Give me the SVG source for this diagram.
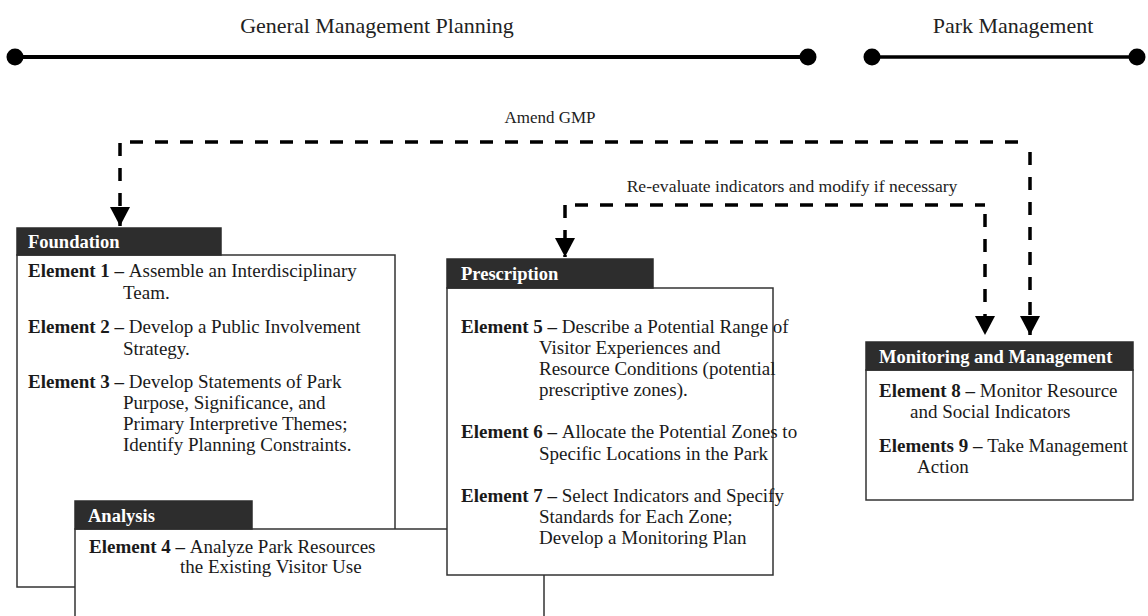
<svg xmlns="http://www.w3.org/2000/svg" width="1148" height="616" viewBox="0 0 1148 616">
  <defs>
    <style>
      .title { font-family: "Liberation Serif", "Times New Roman", serif; font-size: 22px; fill: #222; }
      .note { font-family: "Liberation Serif", "Times New Roman", serif; font-size: 17px; fill: #222; }
      .head { font-family: "Liberation Serif", "Times New Roman", serif; font-size: 18.5px; font-weight: bold; fill: #fff; }
      .body { font-family: "Liberation Serif", "Times New Roman", serif; font-size: 19px; fill: #1a1a1a; }
      .body tspan.b { font-weight: bold; }
      .bar { fill: #2d2d2d; stroke: #2d2d2d; stroke-width: 1.5; }
      .box { fill: #fff; stroke: #333; stroke-width: 1.5; }
      .dash { fill: none; stroke: #000; stroke-width: 3.5; stroke-dasharray: 13 12; }
      .phase { stroke: #000; stroke-linecap: butt; }
    </style>
    <marker id="arrow" viewBox="0 0 20 20" refX="19" refY="10" markerWidth="20" markerHeight="20" markerUnits="userSpaceOnUse" orient="auto">
      <path d="M0,0 L19,10 L0,20 Z" fill="#000"/>
    </marker>
  </defs>

  <!-- Phase timelines -->
  <g id="phases">
    <text class="title" x="377" y="33" text-anchor="middle">General Management Planning</text>
    <line class="phase" x1="15" y1="57" x2="808" y2="57" stroke-width="4"/>
    <circle cx="15" cy="57" r="8.5"/>
    <circle cx="808" cy="57" r="8.5"/>
    <text class="title" x="1013" y="33" text-anchor="middle">Park Management</text>
    <line class="phase" x1="872" y1="57" x2="1137" y2="57" stroke-width="3.3"/>
    <circle cx="872" cy="57" r="8.5"/>
    <circle cx="1137" cy="57" r="8.5"/>
  </g>

  <!-- Feedback connectors -->
  <g id="connectors">
    <text class="note" x="550" y="123" text-anchor="middle">Amend GMP</text>
    <path class="dash" d="M120,143 V226" marker-end="url(#arrow)"/>
    <path class="dash" d="M130,142 H1030"/>
    <path class="dash" d="M1030,152 V335" marker-end="url(#arrow)"/>

    <text class="note" x="792" y="192" text-anchor="middle" style="font-size:17.6px">Re-evaluate indicators and modify if necessary</text>
    <path class="dash" d="M565,205 V257" marker-end="url(#arrow)"/>
    <path class="dash" d="M575,205 H985"/>
    <path class="dash" d="M985,214 V335" marker-end="url(#arrow)"/>
  </g>

  <!-- Foundation -->
  <g id="foundation">
    <rect class="box" x="17" y="255" width="378" height="332"/>
    <rect class="bar" x="17" y="228" width="204" height="27"/>
    <text class="head" x="28" y="248">Foundation</text>
    <text class="body" x="28" y="277"><tspan class="b">Element 1 – </tspan>Assemble an Interdisciplinary</text>
    <text class="body" x="123" y="299">Team.</text>
    <text class="body" x="28" y="333"><tspan class="b">Element 2 – </tspan>Develop a Public Involvement</text>
    <text class="body" x="123" y="355">Strategy.</text>
    <text class="body" x="28" y="388"><tspan class="b">Element 3 – </tspan>Develop Statements of Park</text>
    <text class="body" x="123" y="409">Purpose, Significance, and</text>
    <text class="body" x="123" y="430">Primary Interpretive Themes;</text>
    <text class="body" x="123" y="451">Identify Planning Constraints.</text>
  </g>

  <!-- Analysis -->
  <g id="analysis">
    <rect class="box" x="75" y="529" width="469" height="100"/>
    <rect class="bar" x="75" y="501" width="177" height="28"/>
    <text class="head" x="88" y="522">Analysis</text>
    <text class="body" x="89" y="553"><tspan class="b">Element 4 – </tspan>Analyze Park Resources</text>
    <text class="body" x="180" y="573">the Existing Visitor Use</text>
  </g>

  <!-- Prescription -->
  <g id="prescription">
    <rect class="box" x="447" y="288" width="326" height="287"/>
    <rect class="bar" x="447" y="259" width="206" height="29"/>
    <text class="head" x="461" y="280">Prescription</text>
    <text class="body" x="461" y="333"><tspan class="b">Element 5 – </tspan>Describe a Potential Range of</text>
    <text class="body" x="539" y="354">Visitor Experiences and</text>
    <text class="body" x="539" y="375">Resource Conditions (potential</text>
    <text class="body" x="539" y="396">prescriptive zones).</text>
    <text class="body" x="461" y="438"><tspan class="b">Element 6 – </tspan>Allocate the Potential Zones to</text>
    <text class="body" x="539" y="460">Specific Locations in the Park</text>
    <text class="body" x="461" y="502"><tspan class="b">Element 7 – </tspan>Select Indicators and Specify</text>
    <text class="body" x="539" y="523">Standards for Each Zone;</text>
    <text class="body" x="539" y="544">Develop a Monitoring Plan</text>
  </g>

  <!-- Monitoring and Management -->
  <g id="monitoring">
    <rect class="box" x="866" y="370" width="267" height="130"/>
    <rect class="bar" x="866" y="342" width="267" height="28"/>
    <text class="head" x="879" y="363">Monitoring and Management</text>
    <text class="body" x="879" y="397"><tspan class="b">Element 8 – </tspan>Monitor Resource</text>
    <text class="body" x="910" y="418">and Social Indicators</text>
    <text class="body" x="879" y="452"><tspan class="b">Elements 9 – </tspan>Take Management</text>
    <text class="body" x="917" y="473">Action</text>
  </g>
</svg>
